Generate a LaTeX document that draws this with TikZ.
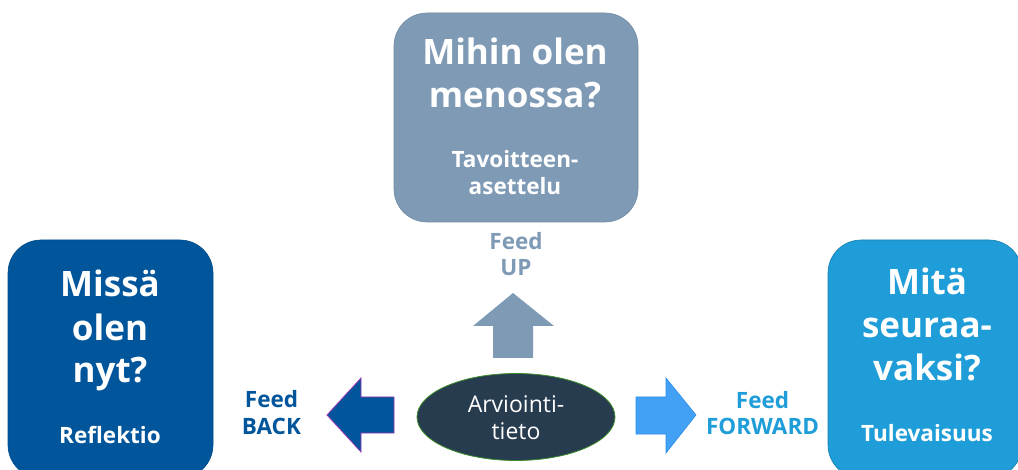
\documentclass[tikz,border=0pt]{standalone}
\usepackage{fontspec}
\setmainfont{Open Sans}
\usetikzlibrary{shapes.geometric}
\definecolor{cgray}{HTML}{7F9AB5}
\definecolor{cdark}{HTML}{00559B}
\definecolor{clight}{HTML}{1F9DD8}
\definecolor{cell}{HTML}{283C50}
\definecolor{cellborder}{HTML}{3C8C2C}
\definecolor{cfwd}{HTML}{42A0F5}
\definecolor{cfwdborder}{HTML}{2E8EE8}
\definecolor{cpurple}{HTML}{9B35B5}
\begin{document}
\begin{tikzpicture}[x=1pt,y=-1pt,
  box/.style={rectangle, rounded corners=33pt, inner sep=0pt, line width=0.6pt},
  bigtxt/.style={text=white, font=\bfseries\fontsize{35}{43}\selectfont, align=center, inner sep=0pt, anchor=base},
  subtxt/.style={text=white, font=\bfseries\fontsize{22.5}{27}\selectfont, align=center, inner sep=0pt, anchor=base},
  feedtxt/.style={font=\bfseries\fontsize{22.5}{26.5}\selectfont, align=center, inner sep=0pt, anchor=base}]
\useasboundingbox (0,0) rectangle (1018,470);
\begin{scope}
\clip (0,0) rectangle (1018,470);
% boxes
\node[box, fill=cgray, draw=cgray!90!black, minimum width=244pt, minimum height=209pt] (goal) at (516,117.5) {};
\node[box, fill=cdark, draw=cdark!90!black, minimum width=205pt, minimum height=238pt] (now) at (110.5,359) {};
\node[box, fill=clight, draw=clight!80!black, minimum width=194pt, minimum height=238pt] (next) at (925,359) {};
% box texts (anchor = baseline of last line)
\node[bigtxt] (goalq) at (515,108) {Mihin olen\\menossa?};
\node[subtxt] (goals) at (515,195) {Tavoitteen-\\asettelu};
\node[bigtxt] (nowq) at (110,383) {Missä\\olen\\nyt?};
\node[subtxt] (nows) at (110,443) {Reflektio};
\node[bigtxt] (nextq) at (927,381) {Mitä\\seuraa-\\vaksi?};
\node[subtxt] (nexts) at (927,442) {Tulevaisuus};
% block arrows
\fill[cgray] (513,293) -- (554,326) -- (533,326) -- (533,358) -- (493,358) -- (493,326) -- (473,326) -- cycle;
\filldraw[fill=cdark, draw=cpurple, line width=0.8pt] (327,415) -- (361,378) -- (361,397) -- (394,397) -- (394,433) -- (361,433) -- (361,452) -- cycle;
\filldraw[fill=cfwd, draw=cfwdborder, line width=0.6pt] (696,415) -- (666,378) -- (666,397) -- (636,397) -- (636,434) -- (666,434) -- (666,453) -- cycle;
% ellipse
\node[ellipse, fill=cell, draw=cellborder, line width=0.8pt, minimum width=198pt, minimum height=87pt, inner sep=0pt] (info) at (516,417) {};
\node[text=white, font=\fontsize{23}{27}\selectfont, align=center, inner sep=0pt, anchor=base] (infot) at (516,439) {Arviointi-\\tieto};
% feed labels
\node[feedtxt, text=cgray] (fup) at (516,276) {Feed\\UP};
\node[feedtxt, text=cdark] (fback) at (271.5,434) {Feed\\BACK};
\node[feedtxt, text=clight] (ffwd) at (762.5,435) {Feed\\FORWARD};
\end{scope}
\end{tikzpicture}
\end{document}
